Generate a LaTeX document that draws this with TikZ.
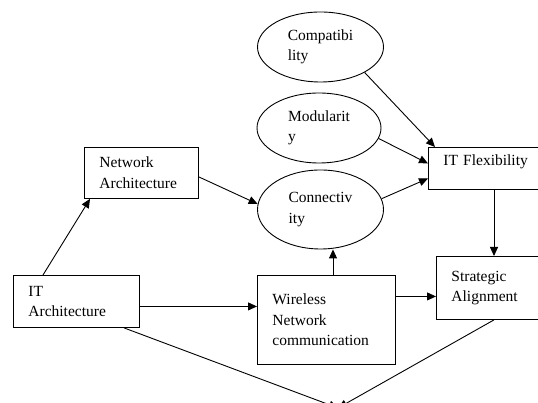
\documentclass[tikz,border=0pt]{standalone}
\usepackage{fontspec}
\setmainfont{Liberation Serif}
\usetikzlibrary{shapes.geometric,arrows.meta,calc}

\begin{document}
\begin{tikzpicture}[x=1pt,y=1pt,
    font=\fontsize{15.5}{20.5}\selectfont,
    every node/.style={line width=0.9pt},
    box/.style={draw, rectangle, anchor=north west, align=left, inner xsep=15pt, inner ysep=0pt},
    oval/.style={draw, ellipse, align=left, inner sep=0pt, minimum width=126pt},
    arr/.style={line width=0.9pt, -{Triangle[length=9pt,width=8pt]}}]

    \path[use as bounding box, fill=white] (0,0) rectangle (538,403);

    % boxes, placed by their top left corner
    \node[box, text width=84pt, minimum height=51pt] (netarch) at (84,256) {Network\\Architecture};
    \node[box, text width=96pt, minimum height=52pt] (itarch) at (13,128) {IT\\Architecture};
    \node[box, text width=108pt, minimum height=89pt] (wireless) at (257,128) {Wireless\\Network\\communication};
    \node[box, text width=85pt, minimum height=63pt] (strategic) at (436,147) {Strategic\\Alignment};
    % text sits high in this one
    \node[box, text width=88pt, minimum height=42pt, text height=11pt, text depth=17pt] (itflex) at (428,256) {IT Flexibility};

    % the three ellipses
    \node[oval, minimum height=70pt] (compat) at (320.5,356) {Compatibi\\lity};
    \node[oval, minimum height=70pt, minimum width=124pt] (modul) at (319,275) {Modularit\\y};
    \node[oval, minimum height=79pt] (connect) at (320.5,193.5) {Connectiv\\ity};

    \coordinate (sink) at (338,-5);

    % arrows into the ellipses and IT Flexibility
    \draw[arr] ([xshift=30pt]itarch.north west) -- ([xshift=6pt]netarch.south west);
    \draw[arr] ([yshift=-4pt]netarch.east) -- (connect.175);
    \draw[arr] (compat.-30) -- ([xshift=7pt]itflex.north west);
    \draw[arr] (modul.-10) -- ([yshift=5pt]itflex.west);
    \draw[arr] (connect.10) -- ([yshift=-10pt]itflex.west);

    \coordinate (fx) at ([xshift=66pt]itflex.south west);
    \draw[arr] (fx) -- (fx |- strategic.north);
    \coordinate (wx) at ([xshift=76pt]wireless.north west);
    \draw[arr] (wx) -- (wx |- connect.south);

    % horizontal arrows along the bottom row
    \coordinate (ax) at ([yshift=-5pt]itarch.east);
    \draw[arr] (ax) -- (ax -| wireless.west);
    \coordinate (sx) at ([yshift=-8.5pt]strategic.west);
    \draw[arr] (wireless.east |- sx) -- (sx);

    % both meet below the picture
    \draw[arr] ([xshift=111pt]itarch.south west) -- (sink);
    \draw[arr] ([xshift=58pt]strategic.south west) -- (sink);

\end{tikzpicture}
\end{document}
